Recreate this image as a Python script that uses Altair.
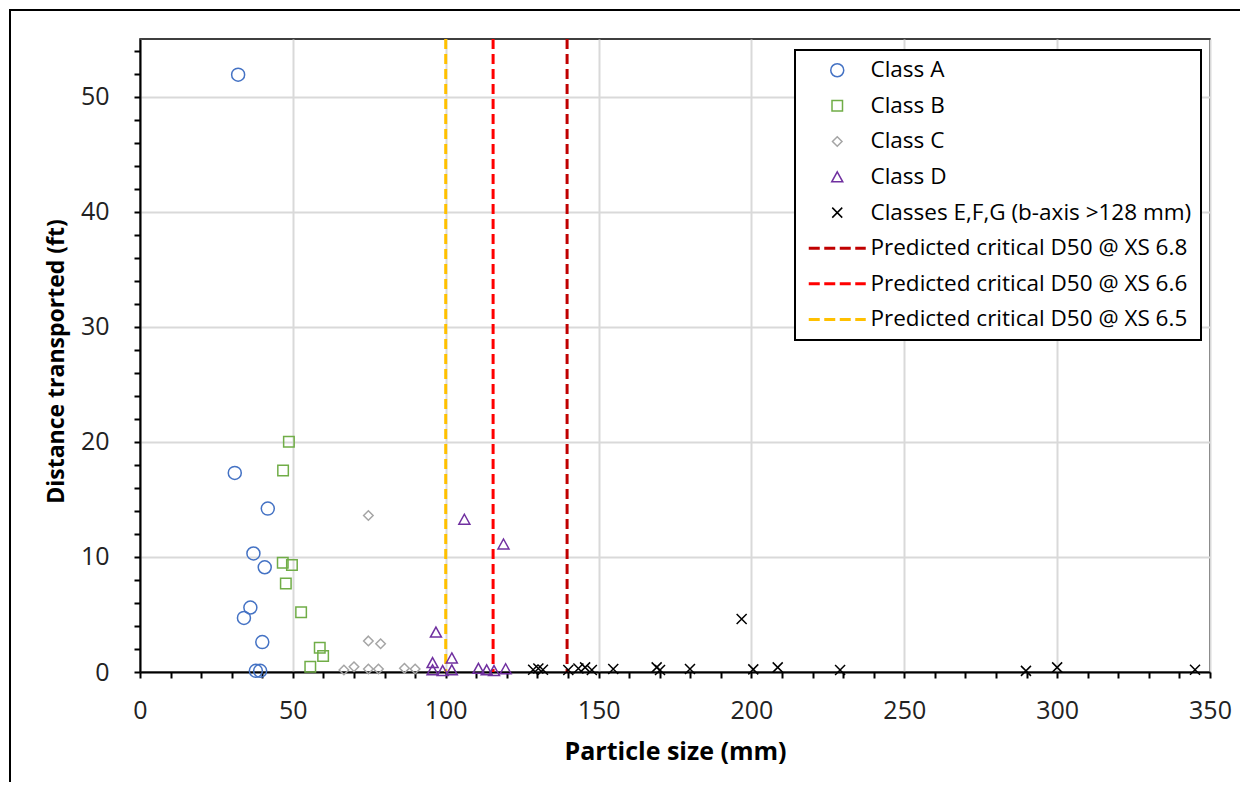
import altair as alt
import pandas as pd

# ---------------- data ----------------
class_a_x = [32.1, 31.0, 41.8, 37.1, 40.8, 36.1, 34.0, 40.0, 37.9, 39.3]
class_a_y = [51.9, 17.3, 14.2, 10.3, 9.1, 5.6, 4.7, 2.6, 0.1, 0.1]

class_b_x = [48.7, 46.8, 46.7, 49.7, 47.7, 52.7, 58.8, 59.9, 55.7]
class_b_y = [20.0, 17.5, 9.5, 9.3, 7.7, 5.2, 2.1, 1.4, 0.46]

class_c_x = [74.7, 74.7, 78.7, 66.7, 70.0, 74.7, 78.0, 86.5, 90.0]
class_c_y = [13.6, 2.7, 2.45, 0.17, 0.46, 0.26, 0.26, 0.32, 0.26]

class_d_x = [106.1, 118.9, 96.8, 102.0, 95.7, 95.7, 99.0, 102.0, 110.7, 113.4, 115.8, 119.6]
class_d_y = [13.25, 11.1, 3.45, 1.2, 0.8, 0.17, 0.1, 0.17, 0.3, 0.17, 0.1, 0.26]

class_efg_x = [128.6, 130.3, 131.8, 140.1, 143.4, 145.6, 147.8, 154.8, 169.0, 170.1,
               179.9, 196.8, 200.6, 208.6, 229.0, 289.8, 300.0, 345.1]
class_efg_y = [0.2, 0.3, 0.2, 0.17, 0.3, 0.4, 0.17, 0.26, 0.4, 0.17,
               0.26, 4.6, 0.23, 0.4, 0.17, 0.1, 0.4, 0.2]

critical_d50 = [139.7, 115.5, 100.0]
rule_names = ["Predicted critical D50 @ XS 6.8",
              "Predicted critical D50 @ XS 6.6",
              "Predicted critical D50 @ XS 6.5"]
rule_colors = ["#C00000", "#FF0000", "#FFC000"]

point_names = ["Class A", "Class B", "Class C", "Class D",
               "Classes E,F,G (b-axis >128 mm)"]
point_colors = ["#4472C4", "#70AD47", "#A5A5A5", "#7030A0", "#000000"]

# symbol shapes (paths in Vega unit box) used by the plot and the legend
circle_path = "M-1.3,0A1.3,1.3,0,1,0,1.3,0A1.3,1.3,0,1,0,-1.3,0Z"
square_path = "M-1.05,-1.05H1.05V1.05H-1.05Z"
diamond_path = "M0,-0.95L0.95,0L0,0.95L-0.95,0Z"
triangle_path = "M0,-1.05L1.1,0.95H-1.1Z"
x_path = "M-1,-1L1,1M-1,1L1,-1"
dash_path = ("M-5.55,-0.15H-3.65V0.15H-5.55Z"
             "M-2.45,-0.15H-0.55V0.15H-2.45Z"
             "M0.65,-0.15H2.55V0.15H0.65Z"
             "M3.75,-0.15H5.55V0.15H3.75Z")

all_names = point_names + rule_names
all_colors = point_colors + rule_colors
all_shapes = [circle_path, square_path, diamond_path, triangle_path, x_path,
              dash_path, dash_path, dash_path]

# ---------------- tables ----------------
rows = []
for name, xs, ys in zip(point_names,
                        [class_a_x, class_b_x, class_c_x, class_d_x, class_efg_x],
                        [class_a_y, class_b_y, class_c_y, class_d_y, class_efg_y]):
    for xv, yv in zip(xs, ys):
        rows.append({"size_mm": xv, "dist_ft": yv, "series": name})
points_df = pd.DataFrame(rows)
rules_df = pd.DataFrame({"d50": critical_d50, "series": rule_names})

W, H = 1070, 633
FONT = "Open Sans"

x_scale = alt.Scale(domain=[0, 350], nice=False, zero=False)
y_scale = alt.Scale(domain=[0, 55], nice=False, zero=False)

x_axis = alt.Axis(
    title="Particle size (mm)",
    values=list(range(0, 351, 10)),
    labelExpr="datum.value % 50 === 0 ? datum.label : ''",
    labelOverlap=False,
    labelFlush=False,
    labelFontSize=25,
    labelPadding=20,
    titleFontSize=25,
    titlePadding=16,
    grid=True,
    gridOpacity={"condition": {"test": "datum.value % 50 === 0", "value": 1}, "value": 0},
)
y_axis = alt.Axis(
    title="Distance transported (ft)",
    values=list(range(0, 55, 2)),
    labelExpr="datum.value % 10 === 0 ? datum.label : ''",
    labelOverlap=False,
    labelFlush=False,
    labelFontSize=25,
    labelPadding=25,
    titleFontSize=23,
    titlePadding=12,
    titleY=322,
    grid=True,
    gridOpacity={"condition": {"test": "datum.value % 10 === 0", "value": 1}, "value": 0},
)

frame = alt.Chart(pd.DataFrame({"k": [0]})).mark_rect(
    fill="transparent", stroke="black", strokeWidth=2, clip=False
).encode(
    x=alt.value(-130), x2=alt.value(W + 150),
    y=alt.value(-29), y2=alt.value(H + 200),
)

rules = alt.Chart(rules_df).mark_rule().encode(
    x=alt.X("d50:Q", scale=x_scale, axis=x_axis),
    color=alt.Color("series:N", scale=alt.Scale(domain=rule_names, range=rule_colors), legend=None),
    strokeDash=alt.value([10, 5]),
    strokeWidth=alt.value(3),
)

legend_def = alt.Legend(title=None, orient="none", legendX=655, legendY=11)

points = alt.Chart(points_df).mark_point(
    filled=False, size=100, strokeWidth=1.5, opacity=1
).encode(
    x=alt.X("size_mm:Q", scale=x_scale, axis=x_axis),
    y=alt.Y("dist_ft:Q", scale=y_scale, axis=y_axis),
    stroke=alt.Stroke("series:N",
                      scale=alt.Scale(domain=all_names, range=all_colors),
                      legend=legend_def),
    shape=alt.Shape("series:N",
                    scale=alt.Scale(domain=all_names, range=all_shapes),
                    legend=legend_def),
)

chart = alt.layer(frame, rules, points).properties(
    width=W, height=H,
    autosize=alt.AutoSizeParams(type="none"),
    padding={"left": 132, "top": 31, "right": 30, "bottom": 110},
).configure(
    font=FONT,
).configure_view(
    stroke="black", strokeWidth=1.5,
).configure_axis(
    labelFont=FONT, titleFont=FONT,
    labelColor="#222222", titleColor="#000000",
    titleFontWeight="bold",
    domainColor="black", domainWidth=2,
    tickColor="black", tickWidth=2, tickSize=6,
    gridColor="#d9d9d9", gridWidth=2,
).configure_legend(
    labelFont=FONT, labelFontSize=22.5, labelColor="#000000", labelLimit=0,
    strokeColor="black", fillColor="white", strokeWidth=2,
    padding=9, symbolSize=100, symbolStrokeWidth=1.5,
    symbolOffset=22, labelOffset=22, rowPadding=12.6,
    symbolFillColor="transparent",
)

chart.save("out.html", embed_options={"renderer": "svg", "actions": False})
